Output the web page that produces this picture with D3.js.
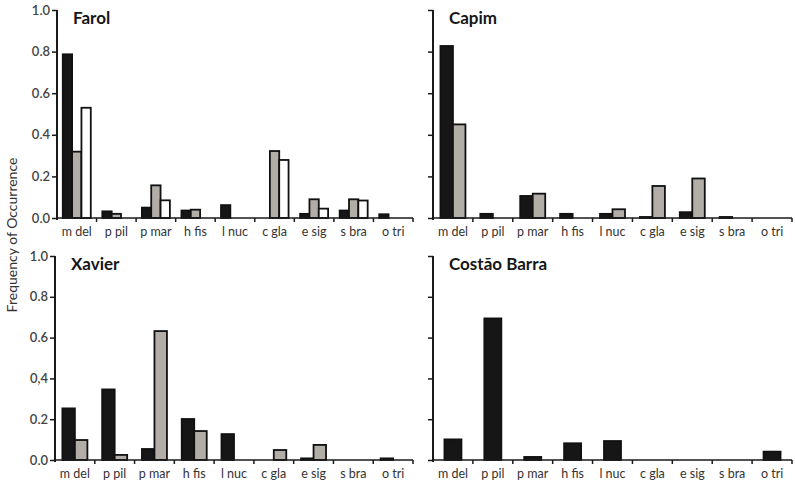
<!DOCTYPE html>
<html>
<head>
<meta charset="utf-8">
<script src="https://cdn.jsdelivr.net/npm/d3@7"></script>
<style>
  body { margin: 0; background: #fff; }
  svg { display: block; }
  text { font-family: Lato, "Open Sans", sans-serif; }
</style>
</head>
<body>
<svg id="chart" width="795" height="488"></svg>
<script>
// categories (species codes)
var categories = ["m del", "p pil", "p mar", "h fis", "l nuc", "c gla", "e sig", "s bra", "o tri"];
var yTicks = [0, 0.2, 0.4, 0.6, 0.8, 1.0];
var yTickLabels = ["0.0", "0.2", "0.4", "0.6", "0.8", "1.0"];
var yTickLabelsXavier = ["0.0", "0.2", "0,4", "0.6", "0.8", "1.0"];

// values, one array per series
var farolBlack = [0.787, 0.032, 0.05, 0.036, 0.062, 0, 0.02, 0.036, 0.018];
var farolGrey  = [0.319, 0.020, 0.157, 0.040, 0, 0.322, 0.090, 0.090, 0];
var farolWhite = [0.530, 0, 0.085, 0, 0, 0.279, 0.045, 0.084, 0];

var capimBlack = [0.827, 0.020, 0.106, 0.020, 0.020, 0.005, 0.028, 0.005, 0];
var capimGrey  = [0.450, 0, 0.117, 0, 0.042, 0.154, 0.190, 0, 0];

var xavierBlack = [0.253, 0.346, 0.054, 0.201, 0.127, 0, 0.008, 0, 0.008];
var xavierGrey  = [0.098, 0.025, 0.632, 0.142, 0, 0.049, 0.074, 0, 0];

var barraBlack = [0.101, 0.694, 0.015, 0.082, 0.093, 0, 0, 0, 0.041];

var fills = { black: "#161616", grey: "#b3ada8", white: "#ffffff" };

var svg = d3.select("#chart");

// one panel per site
function panel(opt) {
    var g = svg.append("g").attr("class", "panel");

    var x = d3.scaleBand().domain(categories).range([opt.x0, opt.x1]);
    var y = d3.scaleLinear().domain([0, 1]).range([opt.yb, opt.yt]);

    var names = opt.series.map(function(s) { return s.name; });
    var groupW = opt.groupW;
    var sub = d3.scaleBand().domain(names).range([0, groupW]);

    // bars
    opt.series.forEach(function(s) {
        var rows = categories.map(function(c, i) { return { cat: c, v: s.values[i] }; })
            .filter(function(d) { return d.v > 0; });
        g.append("g").selectAll("rect")
            .data(rows)
            .enter()
            .append("rect")
            .attr("x", function(d) { return x(d.cat) + (x.bandwidth() - groupW) / 2 + sub(s.name); })
            .attr("y", function(d) { return y(d.v); })
            .attr("width", sub.bandwidth())
            .attr("height", function(d) { return y(0) - y(d.v); })
            .attr("fill", fills[s.name])
            .attr("stroke", "#111")
            .attr("stroke-width", 1.8);
    });

    // y axis
    var ya = g.append("g")
        .attr("transform", "translate(" + opt.x0 + ",0)")
        .call(d3.axisLeft(y).tickValues(yTicks).tickSize(5).tickPadding(2)
            .tickFormat(function(d, i) { return opt.tickLabels ? opt.tickLabels[i] : ""; }));
    ya.select(".domain").attr("stroke", "#1a1a1a").attr("stroke-width", 2)
        .attr("d", "M0," + opt.yt + "V" + (opt.yb + 2));
    ya.selectAll(".tick line").attr("stroke", "#1a1a1a").attr("stroke-width", 1.5);
    ya.selectAll(".tick text").attr("fill", "#444").attr("font-size", 13).attr("font-weight", 600);

    // x axis: labels centred, ticks at band edges
    var xa = g.append("g")
        .attr("transform", "translate(0," + opt.yb + ")")
        .call(d3.axisBottom(x).tickSize(0).tickPadding(9));
    xa.select(".domain").attr("stroke", "#1a1a1a").attr("stroke-width", 1.5)
        .attr("d", "M" + opt.x0 + ",0H" + opt.x1);
    xa.selectAll(".tick text").attr("fill", "#333").attr("font-size", 12.5);
    xa.append("g").selectAll("line")
        .data(categories)
        .enter()
        .append("line")
        .attr("x1", function(d) { return x(d) + x.bandwidth(); })
        .attr("x2", function(d) { return x(d) + x.bandwidth(); })
        .attr("y1", 0)
        .attr("y2", 4)
        .attr("stroke", "#1a1a1a")
        .attr("stroke-width", 1.5);

    // site name
    g.append("text")
        .attr("x", opt.x0 + 16)
        .attr("y", opt.yt + 14)
        .attr("font-size", 17)
        .attr("font-weight", 700)
        .attr("fill", "#161616")
        .text(opt.title);
}

panel({ title: "Farol", x0: 57, x1: 413, yt: 10, yb: 218, groupW: 28, tickLabels: yTickLabels,
        series: [{ name: "black", values: farolBlack }, { name: "grey", values: farolGrey }, { name: "white", values: farolWhite }] });
panel({ title: "Capim", x0: 433, x1: 792, yt: 10, yb: 218, groupW: 25, tickLabels: null,
        series: [{ name: "black", values: capimBlack }, { name: "grey", values: capimGrey }] });
panel({ title: "Xavier", x0: 55, x1: 413, yt: 256, yb: 460, groupW: 25, tickLabels: yTickLabelsXavier,
        series: [{ name: "black", values: xavierBlack }, { name: "grey", values: xavierGrey }] });
panel({ title: "Costão Barra", x0: 433, x1: 792, yt: 256, yb: 460, groupW: 17, tickLabels: null,
        series: [{ name: "black", values: barraBlack }] });

// shared y title
svg.append("text")
    .attr("transform", "translate(17,235) rotate(-90)")
    .attr("text-anchor", "middle")
    .attr("font-size", 14)
    .attr("fill", "#333")
    .text("Frequency of Occurrence");
</script>
</body>
</html>
